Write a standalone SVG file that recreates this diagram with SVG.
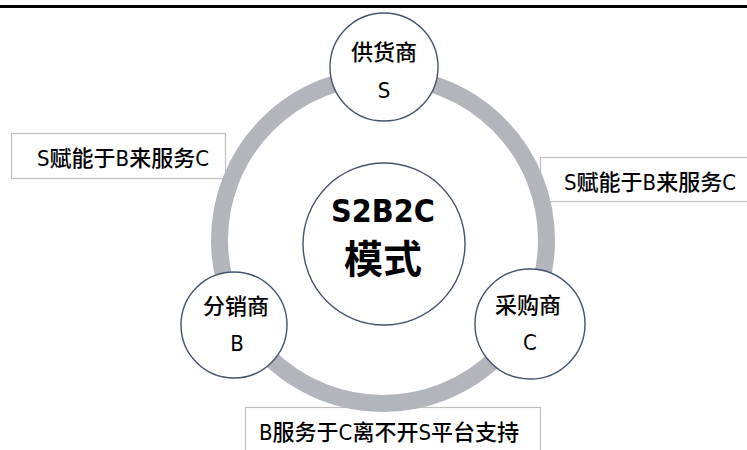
<svg xmlns="http://www.w3.org/2000/svg" width="747" height="450" viewBox="0 0 747 450">
<style>
.t{font-family:"DejaVu Sans Condensed","Noto Sans CJK SC",sans-serif;fill:#000;text-anchor:middle;dominant-baseline:central;font-weight:500}
.b{font-weight:bold}
.node{fill:#fff;stroke:#44546A;stroke-width:1.4}
.box{fill:#fff;stroke:#BFBFBF;stroke-width:1.2}
</style>
<rect x="0" y="5" width="747" height="3" fill="#000"/>
<g id="labels">
<rect class="box" x="11.5" y="133.5" width="214" height="45"/>
<text class="t" x="123" y="158" font-size="22">S赋能于B来服务C</text>
<rect class="box" x="540.5" y="157.5" width="210" height="44"/>
<text class="t" x="650" y="182" font-size="22">S赋能于B来服务C</text>
<rect class="box" x="245.5" y="407.5" width="295" height="50"/>
<text class="t" x="389" y="432" font-size="22">B服务于C离不开S平台支持</text>
</g>
<g id="connectors">
<circle cx="383" cy="240" r="163.5" fill="none" stroke="#B2B5BC" stroke-width="17"/>
</g>
<g id="center">
<circle class="node" cx="384" cy="244" r="81"/>
<text class="t b" x="383" y="211" font-size="32">S2B2C</text>
<text class="t b" x="383" y="259" font-size="39">模式</text>
</g>
<g id="supplier">
<circle class="node" cx="384" cy="67" r="54"/>
<text class="t" x="384" y="52" font-size="22">供货商</text>
<text class="t" x="384" y="90" font-size="22">S</text>
</g>
<g id="distributor">
<circle class="node" cx="234" cy="325" r="53"/>
<text class="t" x="236" y="306" font-size="22">分销商</text>
<text class="t" x="237" y="343" font-size="22">B</text>
</g>
<g id="purchaser">
<circle class="node" cx="530" cy="324" r="55"/>
<text class="t" x="528" y="305" font-size="22">采购商</text>
<text class="t" x="530" y="342" font-size="22">C</text>
</g>
</svg>
